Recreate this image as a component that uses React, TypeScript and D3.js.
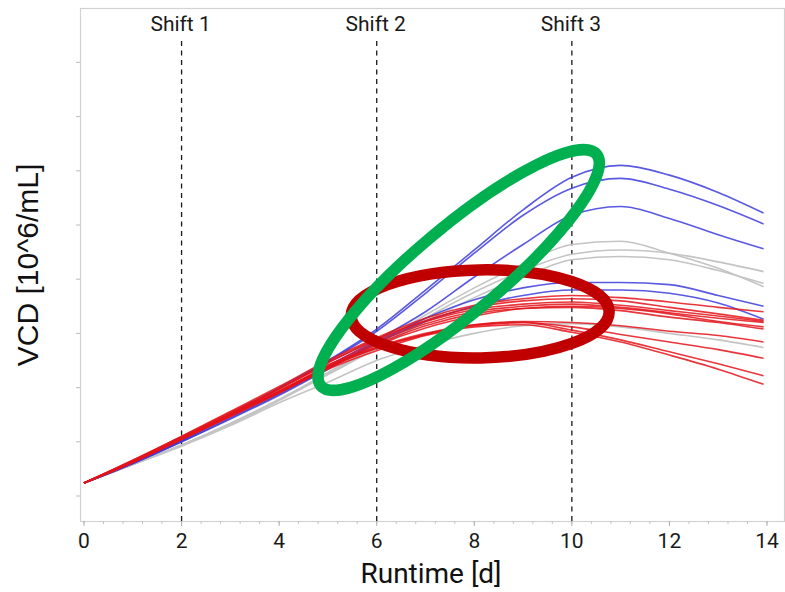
import React, { useEffect, useRef } from "react";
import * as d3 from "d3";

// sample days for every run
const days = [0, 1, 2, 3, 4, 5, 6, 7, 8, 9, 10, 11, 12, 13, 13.93];

// VCD per run
const blue1 = [1.2, 3.1, 5.2, 7.6, 10.0, 12.5, 15.4, 19.0, 22.7, 26.4, 29.4, 30.5, 29.6, 28.0, 26.1];
const blue2 = [1.2, 3.1, 5.1, 7.5, 9.9, 12.4, 15.2, 18.7, 22.4, 25.9, 28.4, 29.3, 28.3, 26.8, 25.1];
const blue3 = [1.2, 3.0, 5.1, 7.4, 9.6, 12.0, 14.4, 17.0, 20.2, 23.2, 25.9, 26.7, 25.6, 24.1, 22.8];
const blue4 = [1.2, 3.0, 5.0, 7.2, 9.4, 11.8, 14.2, 16.4, 18.1, 19.2, 19.7, 19.7, 19.5, 18.5, 17.5];
const blue5 = [1.2, 3.0, 5.0, 7.1, 9.3, 11.7, 14.1, 16.1, 17.5, 18.5, 19.0, 19.0, 18.7, 17.8, 16.3];

const gray1 = [1.2, 2.9, 4.7, 6.7, 8.9, 11.4, 13.9, 16.7, 19.2, 21.4, 23.2, 23.5, 22.4, 21.0, 19.3];
const gray2 = [1.2, 2.9, 4.7, 6.7, 8.9, 11.3, 13.7, 16.4, 18.8, 20.8, 22.3, 22.7, 22.4, 21.6, 20.7];
const gray3 = [1.2, 2.9, 4.7, 6.6, 8.8, 11.2, 13.6, 16.1, 18.3, 20.2, 21.8, 22.1, 21.8, 20.8, 19.6];
const gray4 = [1.2, 2.9, 4.6, 6.5, 8.6, 10.5, 12.5, 13.9, 15.0, 15.7, 15.9, 15.6, 15.0, 14.4, 13.7];

const red1 = [1.2, 3.3, 5.5, 7.8, 10.1, 12.5, 14.6, 16.4, 17.6, 18.2, 18.5, 18.3, 17.9, 17.4, 17.0];
const red2 = [1.2, 3.2, 5.4, 7.6, 9.9, 12.3, 14.4, 16.1, 17.2, 17.7, 17.9, 17.6, 17.1, 16.6, 16.1];
const red3 = [1.2, 3.2, 5.3, 7.5, 9.7, 12.0, 14.2, 15.9, 17.0, 17.5, 17.7, 17.4, 16.9, 16.4, 16.0];
const red4 = [1.2, 3.1, 5.2, 7.4, 9.6, 11.9, 14.0, 15.7, 16.8, 17.3, 17.4, 17.1, 16.5, 16.0, 15.4];
const red5 = [1.2, 3.2, 5.3, 7.4, 9.6, 11.8, 13.7, 15.0, 15.8, 16.1, 16.0, 15.7, 15.2, 14.8, 14.2];
const red6 = [1.2, 3.3, 5.5, 7.7, 9.9, 12.1, 13.7, 14.9, 15.7, 16.0, 15.6, 14.9, 14.2, 13.5, 12.7];
const red7 = [1.2, 3.2, 5.4, 7.5, 9.7, 11.9, 13.6, 14.9, 15.8, 16.0, 15.3, 14.4, 13.3, 12.2, 11.1];
const red8 = [1.2, 3.1, 5.3, 7.4, 9.5, 11.7, 13.4, 14.8, 15.6, 15.8, 15.1, 14.2, 13.0, 11.7, 10.3];
const red9 = [1.2, 3.2, 5.4, 7.6, 9.9, 12.3, 14.5, 16.2, 17.4, 18.0, 18.2, 18.0, 17.4, 16.8, 16.2];
const red10 = [1.2, 3.1, 5.2, 7.3, 9.5, 11.8, 13.9, 15.5, 16.6, 17.3, 17.5, 17.3, 16.8, 16.1, 15.6];

const grayRuns = [gray1, gray2, gray3, gray4];
const blueRuns = [blue1, blue2, blue3, blue4, blue5];
const redRuns = [red1, red2, red3, red4, red5, red6, red7, red8, red9, red10];

const shiftDays = [2, 6, 10];
const shiftLabels = ["Shift 1", "Shift 2", "Shift 3"];
const xTicks = [0, 2, 4, 6, 8, 10, 12, 14];
const yTicks = [0, 5, 10, 15, 20, 25, 30, 35, 40];

// hand-drawn highlight ovals (centre in data units)
const greenOval = { day: 7.68, vcd: 20.85, rx: 180, ry: 43, angle: -40 };
const redOval = { day: 8.12, vcd: 16.8, rx: 129, ry: 44, angle: -1 };

export default function App() {
  const svgRef = useRef<SVGSVGElement>(null);

  useEffect(() => {
    const svg = d3.select(svgRef.current);
    svg.selectAll("*").remove();

    const frame = { left: 80, right: 784, top: 8, bottom: 521 };

    const x = d3.scaleLinear().domain([0, 14]).range([84, 767]);
    const y = d3.scaleLinear().domain([0, 40]).range([496, 62.4]);

    // plot frame
    svg
      .append("rect")
      .attr("x", frame.left + 0.5)
      .attr("y", frame.top + 0.5)
      .attr("width", frame.right - frame.left)
      .attr("height", frame.bottom - frame.top)
      .attr("fill", "none")
      .attr("stroke", "#d2d2d2")
      .attr("stroke-width", 1.2);

    // y ticks, no labels
    svg
      .selectAll(".ytick")
      .data(yTicks)
      .join("line")
      .attr("x1", frame.left - 4)
      .attr("x2", frame.left)
      .attr("y1", (d) => y(d))
      .attr("y2", (d) => y(d))
      .attr("stroke", "#bdbdbd");

    // x minor + major ticks
    svg
      .selectAll(".xminor")
      .data(d3.range(0, 14.01, 0.4))
      .join("line")
      .attr("x1", (d) => x(d))
      .attr("x2", (d) => x(d))
      .attr("y1", frame.bottom)
      .attr("y2", frame.bottom + 3)
      .attr("stroke", "#c4c4c4");

    svg
      .selectAll(".xmajor")
      .data(xTicks)
      .join("line")
      .attr("x1", (d) => x(d))
      .attr("x2", (d) => x(d))
      .attr("y1", frame.bottom)
      .attr("y2", frame.bottom + 5)
      .attr("stroke", "#b0b0b0");

    svg
      .selectAll(".xlabel")
      .data(xTicks)
      .join("text")
      .attr("x", (d) => x(d))
      .attr("y", 548)
      .attr("text-anchor", "middle")
      .attr("font-family", "Roboto, sans-serif")
      .attr("font-size", 21)
      .attr("fill", "#1a1a1a")
      .text((d) => d);

    // shift markers
    svg
      .selectAll(".shift")
      .data(shiftDays)
      .join("line")
      .attr("x1", (d) => x(d))
      .attr("x2", (d) => x(d))
      .attr("y1", 41)
      .attr("y2", frame.bottom)
      .attr("stroke", "#1a1a1a")
      .attr("stroke-width", 1.3)
      .attr("stroke-dasharray", "5,4.5");

    svg
      .selectAll(".shiftlabel")
      .data(shiftDays)
      .join("text")
      .attr("x", (d) => x(d) - 1)
      .attr("y", 31)
      .attr("text-anchor", "middle")
      .attr("font-family", "Roboto, sans-serif")
      .attr("font-size", 21)
      .attr("fill", "#1a1a1a")
      .text((d, i) => shiftLabels[i]);

    // runs
    const line = d3
      .line<number>()
      .x((d, i) => x(days[i]))
      .y((d) => y(d))
      .curve(d3.curveMonotoneX);

    const drawRuns = (runs: number[][], color: string, opacity: number) => {
      svg
        .append("g")
        .selectAll("path")
        .data(runs)
        .join("path")
        .attr("fill", "none")
        .attr("stroke", color)
        .attr("stroke-opacity", opacity)
        .attr("stroke-width", 1.6)
        .attr("d", line);
    };

    drawRuns(grayRuns, "#c4c4c4", 1);
    drawRuns(blueRuns, "#3c3cdc", 0.85);
    drawRuns(redRuns, "#e3141b", 0.85);

    // highlight ovals
    const ovals = [
      { ...redOval, color: "#c00000" },
      { ...greenOval, color: "#00b050" },
    ];
    svg
      .selectAll(".oval")
      .data(ovals)
      .join("ellipse")
      .attr("cx", 0)
      .attr("cy", 0)
      .attr("rx", (d) => d.rx)
      .attr("ry", (d) => d.ry)
      .attr("transform", (d) => `translate(${x(d.day)},${y(d.vcd)}) rotate(${d.angle})`)
      .attr("fill", "none")
      .attr("stroke", (d) => d.color)
      .attr("stroke-width", 11.5);

    // axis titles
    svg
      .append("text")
      .attr("x", 431)
      .attr("y", 583)
      .attr("text-anchor", "middle")
      .attr("font-family", "Roboto, sans-serif")
      .attr("font-size", 28)
      .attr("fill", "#111")
      .text("Runtime [d]");

    svg
      .append("text")
      .attr("transform", "translate(38,265) rotate(-90)")
      .attr("text-anchor", "middle")
      .attr("font-family", "'Liberation Sans', Arial, sans-serif")
      .attr("font-size", 30)
      .attr("fill", "#111")
      .text("VCD [10^6/mL]");
  }, []);

  return (
    <svg
      ref={svgRef}
      width={785}
      height={592}
      style={{ position: "absolute", left: 0, top: 0, background: "#fff" }}
    ></svg>
  );
}
